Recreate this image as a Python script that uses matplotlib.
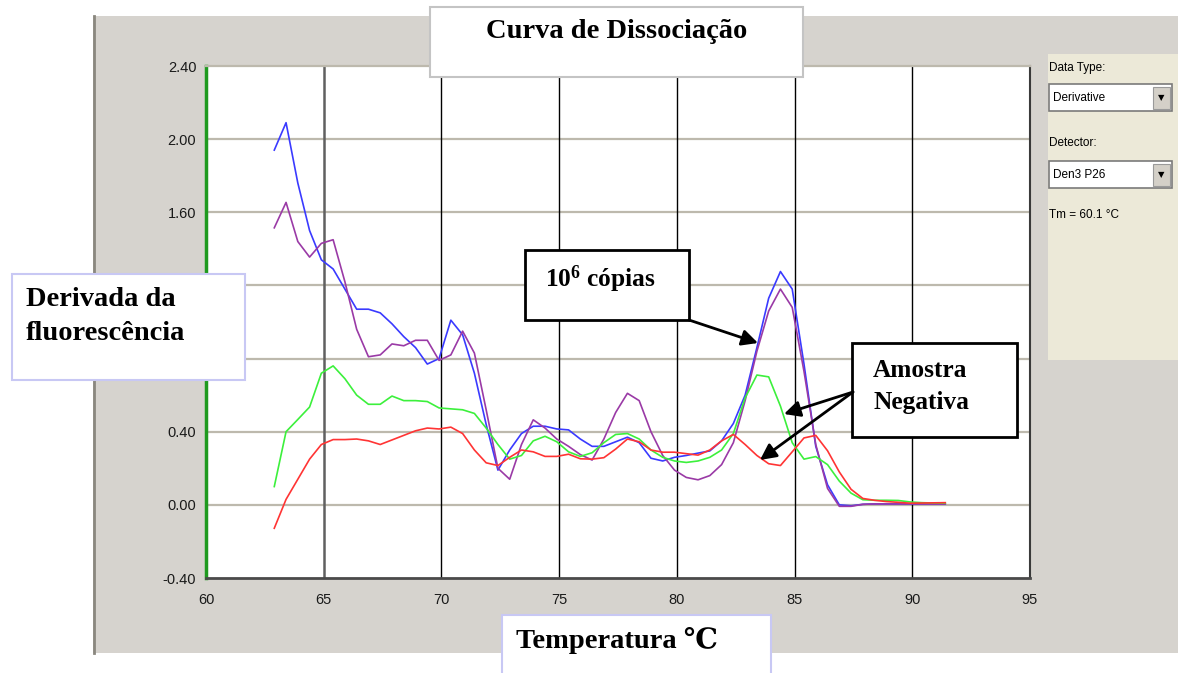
import numpy as np
import matplotlib
matplotlib.use("Agg")
import matplotlib.pyplot as plt
from matplotlib.patches import Rectangle, FancyArrowPatch

# temperature grid (°C) and derivative readings for the four wells
temps = np.round(np.arange(62.9, 91.41, 0.5), 1)

blue = [1.94, 2.09, 1.76, 1.50, 1.34, 1.29, 1.18, 1.07, 1.07, 1.05,
        0.99, 0.92, 0.86, 0.77, 0.80, 1.01, 0.93, 0.72, 0.44, 0.19,
        0.30, 0.39, 0.43, 0.43, 0.415, 0.41, 0.36, 0.32, 0.32, 0.345,
        0.37, 0.34, 0.255, 0.24, 0.26, 0.27, 0.283, 0.295, 0.35, 0.445,
        0.60, 0.86, 1.13, 1.276, 1.18, 0.77, 0.32, 0.11, 0.0, -0.005,
        0.003, 0.005, 0.005, 0.005, 0.005, 0.005, 0.005, 0.005]

purple = [1.515, 1.654, 1.44, 1.355, 1.43, 1.45, 1.22, 0.96, 0.81, 0.82,
          0.88, 0.87, 0.90, 0.90, 0.79, 0.82, 0.95, 0.83, 0.52, 0.20,
          0.14, 0.33, 0.465, 0.42, 0.36, 0.32, 0.275, 0.245, 0.36, 0.505,
          0.61, 0.57, 0.40, 0.27, 0.19, 0.15, 0.137, 0.16, 0.22, 0.34,
          0.57, 0.84, 1.06, 1.18, 1.08, 0.73, 0.33, 0.09, -0.008, -0.008,
          0.003, 0.005, 0.005, 0.005, 0.005, 0.005, 0.005, 0.005]

green = [0.10, 0.40, 0.467, 0.535, 0.72, 0.76, 0.69, 0.60, 0.55, 0.55,
         0.595, 0.57, 0.57, 0.565, 0.53, 0.525, 0.52, 0.50, 0.42, 0.33,
         0.25, 0.27, 0.35, 0.375, 0.345, 0.29, 0.265, 0.285, 0.34, 0.385,
         0.39, 0.36, 0.30, 0.26, 0.24, 0.232, 0.24, 0.26, 0.30, 0.39,
         0.585, 0.71, 0.70, 0.54, 0.34, 0.25, 0.264, 0.22, 0.13, 0.064,
         0.028, 0.025, 0.025, 0.024, 0.016, 0.012, 0.01, 0.009]

red = [-0.128, 0.03, 0.14, 0.25, 0.33, 0.357, 0.357, 0.36, 0.35, 0.33,
       0.355, 0.38, 0.405, 0.42, 0.415, 0.425, 0.39, 0.30, 0.23, 0.215,
       0.26, 0.30, 0.29, 0.265, 0.265, 0.277, 0.252, 0.25, 0.258, 0.305,
       0.36, 0.345, 0.30, 0.288, 0.288, 0.28, 0.272, 0.30, 0.35, 0.385,
       0.33, 0.27, 0.225, 0.215, 0.29, 0.366, 0.38, 0.296, 0.18, 0.085,
       0.035, 0.025, 0.018, 0.014, 0.009, 0.01, 0.011, 0.012]

x_ticks = [60, 65, 70, 75, 80, 85, 90, 95]
y_ticks = [-0.40, 0.00, 0.40, 0.80, 1.20, 1.60, 2.00, 2.40]
# 0.80 and 1.20 sit under the y caption box, so they are left blank
y_labels = ['-0.40', '0.00', '0.40', '', '', '1.60', '2.00', '2.40']

plt.rcParams['mathtext.fontset'] = 'custom'
plt.rcParams['mathtext.rm'] = 'Liberation Serif'
plt.rcParams['mathtext.bf'] = 'Liberation Serif:bold'

W, H = 1178, 673
SERIF = ['Liberation Serif', 'DejaVu Serif']
SANS = ['Liberation Sans', 'DejaVu Sans']
GRAY = '#d6d3ce'

fig = plt.figure(figsize=(W / 100, H / 100), dpi=100, facecolor='white')


def fx(px):
    return px / W


def fy(py):
    return 1 - py / H


def box(x0, y0, x1, y1, **kw):
    r = Rectangle((fx(x0), fy(y1)), fx(x1) - fx(x0), fy(y0) - fy(y1),
                  transform=fig.transFigure, **kw)
    fig.add_artist(r)
    return r


def arrow(x0, y0, x1, y1):
    a = FancyArrowPatch((fx(x0), fy(y0)), (fx(x1), fy(y1)),
                        transform=fig.transFigure, arrowstyle='-|>',
                        mutation_scale=24, lw=2, color='black',
                        shrinkA=0, shrinkB=0, zorder=6)
    fig.add_artist(a)


# window background
box(93, 16, W, 653, facecolor=GRAY, edgecolor='none', zorder=-2)
fig.add_artist(plt.Line2D([fx(94), fx(94)], [fy(16), fy(653)],
                          transform=fig.transFigure, color='#8a877f', lw=2, zorder=-1))

ax = fig.add_axes([fx(206), fy(578), fx(1030) - fx(206), fy(66) - fy(578)])
ax.set_facecolor('white')

ax.plot(temps, blue, color='#3a3aff', lw=1.2)
ax.plot(temps, purple, color='#9a3aa6', lw=1.2)
ax.plot(temps, green, color='#3cf03c', lw=1.2)
ax.plot(temps, red, color='#ff3434', lw=1.2)

ax.set_xlim(60, 95)
ax.set_ylim(-0.4, 2.4)
ax.set_xticks(x_ticks)
ax.set_yticks(y_ticks)
ax.set_yticklabels(y_labels)
for v in y_ticks[1:-1]:
    ax.axhline(v, color='#bdb9ad', lw=1.6, zorder=0.5)
for v in x_ticks[1:-1]:
    ax.axvline(v, color='#606060' if v == 65 else 'black',
               lw=1.8 if v == 65 else 1.0, zorder=0.6)
ax.tick_params(length=0, labelsize=10.5, labelcolor='#1a1a1a')
ax.tick_params(axis='x', pad=11)
ax.tick_params(axis='y', pad=7)
for lab in ax.get_xticklabels() + ax.get_yticklabels():
    lab.set_family(SANS)
ax.spines['left'].set_color('#1f9a1f')
ax.spines['left'].set_linewidth(2.5)
ax.spines['bottom'].set_color('#4a4a4a')
ax.spines['bottom'].set_linewidth(2)
ax.spines['right'].set_color('#3a3a3a')
ax.spines['right'].set_linewidth(1.5)
ax.spines['top'].set_color('#bdb9ad')
ax.spines['top'].set_linewidth(1.6)

# side panel with the software controls
box(1048, 54, W, 360, facecolor='#ece9d8', edgecolor='none', zorder=1)
fig.text(fx(1049), fy(68), 'Data Type:', family=SANS, fontsize=8.5, va='center', zorder=3)
fig.text(fx(1049), fy(143), 'Detector:', family=SANS, fontsize=8.5, va='center', zorder=3)
fig.text(fx(1049), fy(215), 'Tm = 60.1 °C', family=SANS, fontsize=8.5, va='center', zorder=3)
for top, label in [(84, 'Derivative'), (161, 'Den3 P26')]:
    box(1049, top, 1172, top + 27, facecolor='white', edgecolor='#7a7a7a', lw=1.2, zorder=2)
    box(1153, top + 3, 1170, top + 25, facecolor='#d4d0c8', edgecolor='#9a9a9a', lw=0.8, zorder=3)
    fig.text(fx(1161.5), fy(top + 14), '▼', family='DejaVu Sans', fontsize=6,
             ha='center', va='center', zorder=4)
    fig.text(fx(1053), fy(top + 14), label, family=SANS, fontsize=8.5, va='center', zorder=4)

# title and axis caption boxes
box(430, 7, 803, 77, facecolor='white', edgecolor='#c4c4c4', lw=1.5, zorder=4)
fig.text(fx(617), fy(32), 'Curva de Dissociação', family=SERIF, weight='bold',
         fontsize=20.5, ha='center', va='center', zorder=5)

box(12, 274, 245, 380, facecolor='white', edgecolor='#c8c8f4', lw=1.5, zorder=4)
fig.text(fx(26), fy(300), 'Derivada da', family=SERIF, weight='bold',
         fontsize=20.5, va='center', zorder=5)
fig.text(fx(26), fy(333), 'fluorescência', family=SERIF, weight='bold',
         fontsize=20.5, va='center', zorder=5)

box(502, 615, 771, 690, facecolor='white', edgecolor='#c8c8f4', lw=1.5, zorder=4)
fig.text(fx(516), fy(641), 'Temperatura ℃', family=SERIF, weight='bold',
         fontsize=20.5, va='center', zorder=5)

# annotations
box(525, 250, 689, 320, facecolor='white', edgecolor='black', lw=2, zorder=4)
fig.text(fx(545), fy(279), r'$\mathbf{10^{6}}$ cópias', family=SERIF, weight='bold',
         fontsize=18.3, va='center', zorder=5)
arrow(689, 320, 758, 343)

box(852, 343, 1017, 437, facecolor='white', edgecolor='black', lw=2, zorder=4)
fig.text(fx(873), fy(370), 'Amostra', family=SERIF, weight='bold',
         fontsize=18.3, va='center', zorder=5)
fig.text(fx(873), fy(402), 'Negativa', family=SERIF, weight='bold',
         fontsize=18.3, va='center', zorder=5)
arrow(853, 392, 784, 414)
arrow(853, 392, 760, 460)

fig.savefig('out.png', dpi=100, facecolor='white')
